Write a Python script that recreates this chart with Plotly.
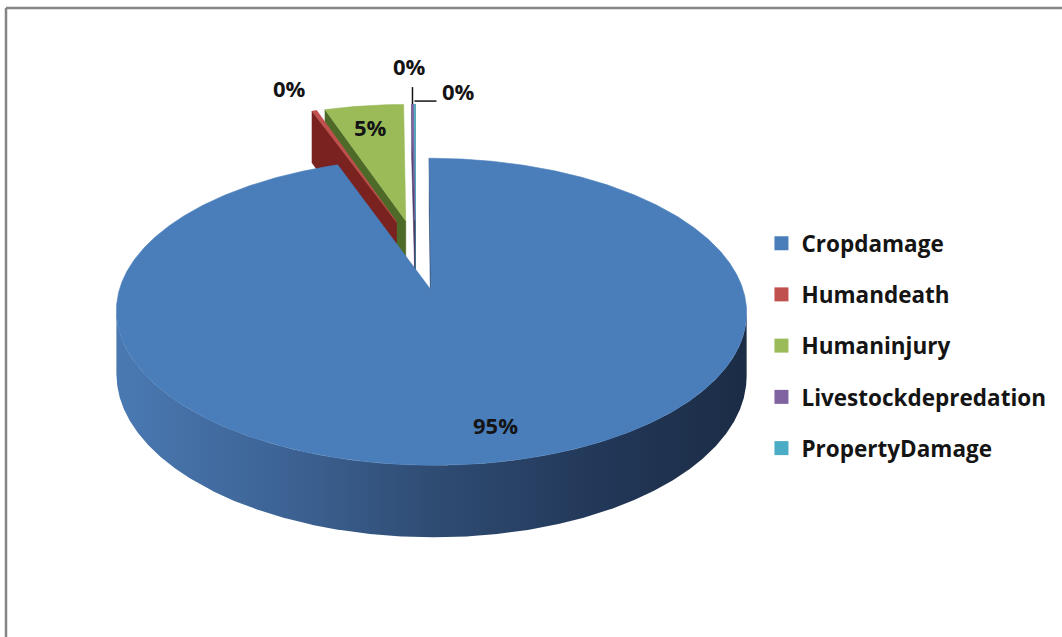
import numpy as np
import plotly.graph_objects as go

# ---- data -------------------------------------------------------------
categories = ["Cropdamage", "Humandeath", "Humaninjury",
              "Livestockdepredation", "PropertyDamage"]
values = [94.6, 0.3, 4.9, 0.1, 0.1]

# ---- styling ----------------------------------------------------------
top_colors = ["#4a7ebb", "#c0504d", "#9bbb59", "#8064a2", "#4bacc6"]
wall_colors = ["#2f4c73", "#7a2220", "#4e6a28", "#4d3a6b", "#2b7286"]
side_scales = [
    [[0, "#4a79b2"], [0.3, "#3b6090"], [0.5, "#2f4c73"], [0.75, "#23395a"], [1, "#1b2c45"]],
    [[0, "#8c2a27"], [1, "#5e1a17"]],
    [[0, "#6f8c35"], [1, "#4e6a28"]],
    [[0, "#654d85"], [1, "#4d3a6b"]],
    [[0, "#3a93aa"], [1, "#2b7286"]],
]
explode = [0.3, 0.2, 0.2, 0.2, 0.2]

W, H = 1062, 637
CX, CY = 415.4, 247.5      # projected centre of the unexploded pie
RX, RY = 299.6, 138.8      # horizontal radius / depth foreshortening
THICK = 59.5               # height of the pie disc
DIST = 7.436               # camera distance (in radius units)
FONT = "Open Sans"


def to_screen(u, w, z):
    s = DIST / (DIST - w)
    return CX + RX * u * s, CY + (RY * w + THICK * z) * s


def rim(theta_deg, ou, ow):
    t = np.radians(theta_deg)
    return ou + np.sin(t), ow - np.cos(t)


total = float(sum(values))
shares = [v / total for v in values]
starts = np.concatenate([[0.0], np.cumsum(shares)[:-1]]) * 360.0
ends = np.cumsum(shares) * 360.0

slices = []
for i, (a1, a2) in enumerate(zip(starts, ends)):
    mid = np.radians((a1 + a2) / 2)
    ou, ow = explode[i] * np.sin(mid), -explode[i] * np.cos(mid)
    # centroid for back-to-front ordering
    cu = ou + 0.6 * np.sin(mid)
    cw = ow - 0.6 * np.cos(mid)
    depth = np.hypot(cu, DIST - cw)
    slices.append(dict(i=i, a1=a1, a2=a2, ou=ou, ow=ow, mid=mid, depth=depth))

fig = go.Figure()


def add_poly(xs, ys, color=None, gradient=None):
    kw = dict(x=list(xs) + [xs[0]], y=list(ys) + [ys[0]], mode="lines",
              fill="toself", line=dict(width=0.6, color=color or "rgba(0,0,0,0)"),
              hoverinfo="skip", showlegend=False)
    if gradient is not None:
        kw["fillgradient"] = dict(type="horizontal", colorscale=gradient)
        kw["line"] = dict(width=0)
    else:
        kw["fillcolor"] = color
    fig.add_trace(go.Scatter(**kw))


for sl in sorted(slices, key=lambda s: -s["depth"]):
    i, a1, a2, ou, ow = sl["i"], sl["a1"], sl["a2"], sl["ou"], sl["ow"]
    n = max(8, int((a2 - a1) * 4))
    th = np.linspace(a1, a2, n)
    u, w = rim(th, ou, ow)

    # outer curved side, only where it faces the camera
    t = np.radians(th)
    facing = -np.sin(t) * u - np.cos(t) * (DIST - w) > 0
    idx = np.where(facing)[0]
    if idx.size:
        runs = np.split(idx, np.where(np.diff(idx) > 1)[0] + 1)
        for run in runs:
            if run.size < 2:
                continue
            xt, yt = to_screen(u[run], w[run], 0)
            xb, yb = to_screen(u[run], w[run], 1)
            xs = np.concatenate([xt, xb[::-1]])
            ys = np.concatenate([yt, yb[::-1]])
            add_poly(xs, ys, gradient=side_scales[i])

    # radial walls
    for ang, sign in ((a1, -1), (a2, 1)):
        ta = np.radians(ang)
        nu, nw = sign * np.cos(ta), sign * np.sin(ta)
        if nu * (0 - ou) + nw * (DIST - ow) > 1e-6:
            ru, rw = rim(ang, ou, ow)
            pts = [to_screen(ou, ow, 0), to_screen(ru, rw, 0),
                   to_screen(ru, rw, 1), to_screen(ou, ow, 1)]
            add_poly([p[0] for p in pts], [p[1] for p in pts], color=wall_colors[i])

    # top face
    xa, ya = to_screen(ou, ow, 0)
    xt, yt = to_screen(u, w, 0)
    add_poly(np.concatenate([[xa], xt]), np.concatenate([[ya], yt]), color=top_colors[i])
    sl["outer_top"] = to_screen(*rim((a1 + a2) / 2, ou, ow), 0)

# legend entries
for cat, col in zip(categories, top_colors):
    fig.add_trace(go.Scatter(x=[None], y=[None], mode="markers", name=cat,
                             legendgroup=cat,
                             marker=dict(symbol="square", size=14, color=col)))

# percentage labels
pct = [f"{round(100 * s):.0f}%" for s in shares]
label_pos = [(495, 425), (289, 88), (370, 127), (409, 66), (458, 91)]
for text, (lx, ly) in zip(pct, label_pos):
    fig.add_annotation(x=lx, y=ly, xref="x", yref="y", text=text, showarrow=False,
                       font=dict(family=FONT, size=22, color="#141414", weight="bold"))

# leader lines for the two thinnest slices
px3, py3 = slices[3]["outer_top"]
px4, py4 = slices[4]["outer_top"]
fig.add_trace(go.Scatter(x=[px3, px3], y=[py3, py3 - 17], mode="lines",
                         line=dict(color="#141414", width=1.5),
                         hoverinfo="skip", showlegend=False))
fig.add_trace(go.Scatter(x=[px4, px4 + 22], y=[py4 - 3, py4 - 3], mode="lines",
                         line=dict(color="#141414", width=1.5),
                         hoverinfo="skip", showlegend=False))

# chart frame (top and left edges)
fig.add_shape(type="line", xref="x", yref="y", x0=6, x1=W, y0=8, y1=8,
              line=dict(color="#858585", width=2.5))
fig.add_shape(type="line", xref="x", yref="y", x0=6, x1=6, y0=8, y1=H,
              line=dict(color="#858585", width=2.5))

fig.update_layout(
    width=W, height=H, margin=dict(l=0, r=0, t=0, b=0),
    paper_bgcolor="white", plot_bgcolor="white",
    xaxis=dict(range=[0, W], visible=False, fixedrange=True),
    yaxis=dict(range=[H, 0], visible=False, fixedrange=True),
    showlegend=True,
    legend=dict(x=0.717, y=1 - 222 / H, xanchor="left", yanchor="top",
                font=dict(family=FONT, size=22.5, color="#141414", weight="bold"),
                tracegroupgap=19, bgcolor="rgba(0,0,0,0)", itemsizing="trace"),
)

fig.write_html("out.html")
